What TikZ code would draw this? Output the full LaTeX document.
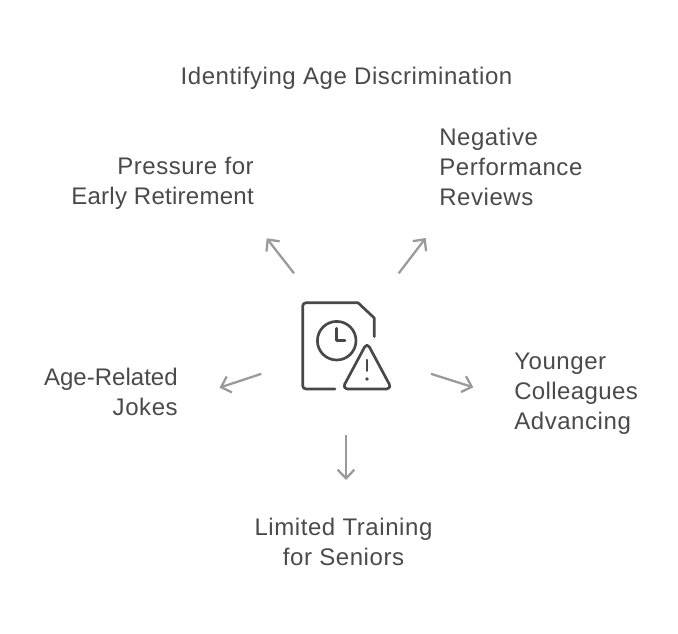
\documentclass[tikz,border=0pt]{standalone}
\usepackage{fontspec}
\setmainfont[LetterSpace=2.4]{Liberation Sans}
\usetikzlibrary{arrows.meta}
\definecolor{txt}{HTML}{4A4A4A}
\definecolor{arr}{HTML}{9A9A9A}
\definecolor{ico}{HTML}{484848}
\newcommand{\tightA}[1]{{\addfontfeatures{LetterSpace=0.1}#1}}
\newcommand{\tightB}[1]{{\addfontfeatures{LetterSpace=1.1}#1}}
\newcommand{\tightC}[1]{{\addfontfeatures{LetterSpace=1.6}#1}}
\tikzset{
  lbl/.style={inner sep=0pt,text=txt,font=\fontsize{18}{22.5}\selectfont},
  lblL/.style={lbl,align=left,anchor=west},
  lblR/.style={lbl,align=right,anchor=east},
  lblC/.style={lbl,align=center,anchor=center},
  conn/.style={draw=arr,line width=1.7pt,-{Straight Barb[length=6.5pt,width=12.5pt,line width=1.7pt]}},
  icon/.style={draw=ico,line width=2pt,line cap=round,line join=round}
}
\begin{document}
\begin{tikzpicture}[x=0.75pt,y=-0.75pt]
\useasboundingbox (0,0) rectangle (678,633);
\fill[white] (0,0) rectangle (678,633);
\node[lblC] (title) at (346.5,78) {Identifying Age Discrimination};
\node[lblR] (pressure) at (254,183) {Pressure for\\\tightB{Early Retirement}};
\node[lblL] (negative) at (439,167) {Negative\\Performance\\Reviews};
\node[lblR] (jokes) at (178,392) {\tightA{Age-Related}\\Jokes};
\node[lblL] (younger) at (514,393.5) {Younger\\\tightC{Colleagues}\\Advancing};
\node[lblC] (training) at (343.5,542) {Limited Training\\for Seniors};
% icon
\coordinate (center) at (346,346);
\draw[icon,rounded corners=2.5pt] (335,389) -- (302.7,389) -- (302.7,302.7) -- (358,302.7);
\draw[icon] (358,302.7) -- (374.3,318) -- (374.3,336.7);
\draw[icon] (336.7,340.7) circle[radius=19.3];
\draw[icon] (336.7,328.3) -- (336.7,340.7) -- (345,340.7);
\draw[icon] (364.6,347) -- (344.8,384) .. controls (343.5,387) and (345,389) .. (347.5,389) -- (386.5,389) .. controls (389,389) and (390.5,387) .. (389.2,384) -- (369.4,347) .. controls (368,344.6) and (366,344.6) .. (364.6,347) -- cycle;
\draw[icon] (367,360) -- (367,370.7);
\fill[ico] (367,379) circle[radius=1.9];
% connectors
\coordinate (a1s) at (294,273.3); \coordinate (a1e) at (266.7,238.3);
\coordinate (a2s) at (398.7,273.3); \coordinate (a2e) at (425.7,238);
\coordinate (a3s) at (261.3,373.8); \coordinate (a3e) at (219.5,387.7);
\coordinate (a4s) at (431,373.8); \coordinate (a4e) at (473.3,387.3);
\coordinate (a5s) at (346,435); \coordinate (a5e) at (346,480);
\draw[conn] (a1s) -- (a1e);
\draw[conn] (a2s) -- (a2e);
\draw[conn] (a3s) -- (a3e);
\draw[conn] (a4s) -- (a4e);
\draw[conn] (a5s) -- (a5e);
\end{tikzpicture}
\end{document}
